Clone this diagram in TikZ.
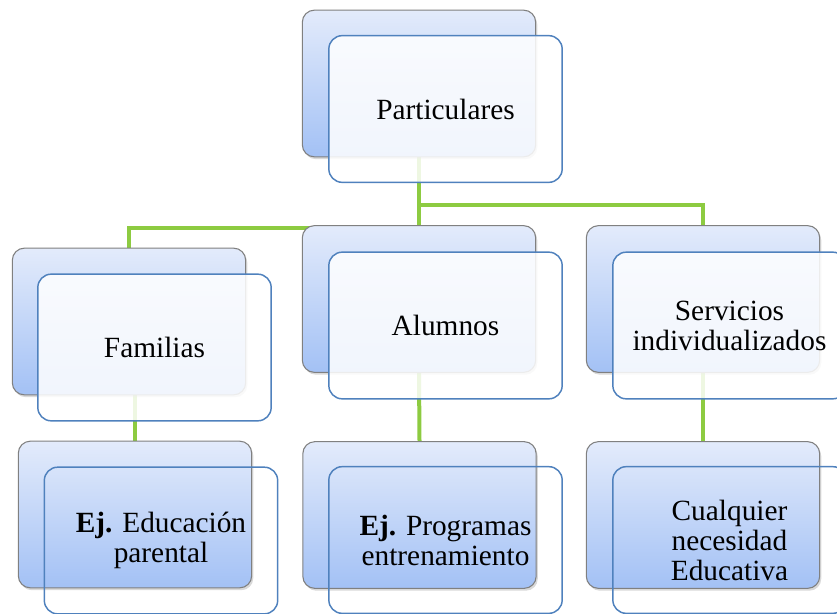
\documentclass[tikz,border=0pt]{standalone}
\usepackage{fontspec}
\setmainfont{Liberation Serif}
\usetikzlibrary{backgrounds,shadows}
\definecolor{backtop}{RGB}{227,235,251}
\definecolor{backbot}{RGB}{163,193,245}
\definecolor{backline}{RGB}{128,128,128}
\definecolor{frontline}{RGB}{79,129,189}
\definecolor{linkgreen}{RGB}{141,203,65}

\begin{document}
\begin{tikzpicture}[
    x=0.75pt, y=-0.75pt,
    back/.style={rectangle, draw=backline, line width=0.8pt, rounded corners=9pt, minimum width=175pt, minimum height=110pt, top color=backtop, bottom color=backbot, drop shadow={shadow xshift=1.2pt, shadow yshift=-1.8pt, opacity=0.3}},
    front/.style={rectangle, draw=frontline, line width=1.1pt, rounded corners=10pt, minimum width=175pt, minimum height=110pt, fill=white, fill opacity=0.85, text opacity=1, align=center, font=\fontsize{22}{22.5}\selectfont},
    open/.style={front, fill=none},
    link/.style={draw=linkgreen, line width=3pt}
]
\useasboundingbox (0,0) rectangle (837,613);

% Back boxes
\node[back] (part-bk) at (419,83.5) {};
\node[back] (fam-bk)  at (129,321.5) {};
\node[back] (alu-bk)  at (419,299) {};
\node[back] (serv-bk) at (703,299) {};
\node[back] (edu-bk)  at (135,514.5) {};
\node[back] (prog-bk) at (419.5,515) {};
\node[back] (nec-bk)  at (703,515) {};

% Front boxes
\node[front] (part) at (445.5,109) {Particulares};
\node[front] (fam)  at (154.5,347.5) {Familias};
\node[front] (alu)  at (445.5,325.5) {Alumnos};
\node[front] (serv) at (729.5,325.5) {Servicios\\individualizados};
\node[open] (edu)  at (161,540.5) {\textbf{Ej.} Educación\\parental};
\node[open] (prog) at (445.5,540) {\textbf{Ej.} Programas\\entrenamiento};
\node[open] (nec)  at (729.5,540) {Cualquier\\necesidad\\Educativa};

% Connectors
\begin{scope}[on background layer]
\draw[link] (part-bk.south) -- ++(0,71) -| (fam-bk.north);
\draw[link] (part-bk.south) -- (alu-bk.north);
\draw[link] (part-bk.south) -- ++(0,48) -| (serv-bk.north);
\draw[link] (edu-bk.north) -- (edu-bk.north |- fam-bk.south);
\draw[link] (alu-bk.south) -- (prog-bk.north);
\draw[link] (serv-bk.south) -- (nec-bk.north);
\end{scope}
\end{tikzpicture}
\end{document}
